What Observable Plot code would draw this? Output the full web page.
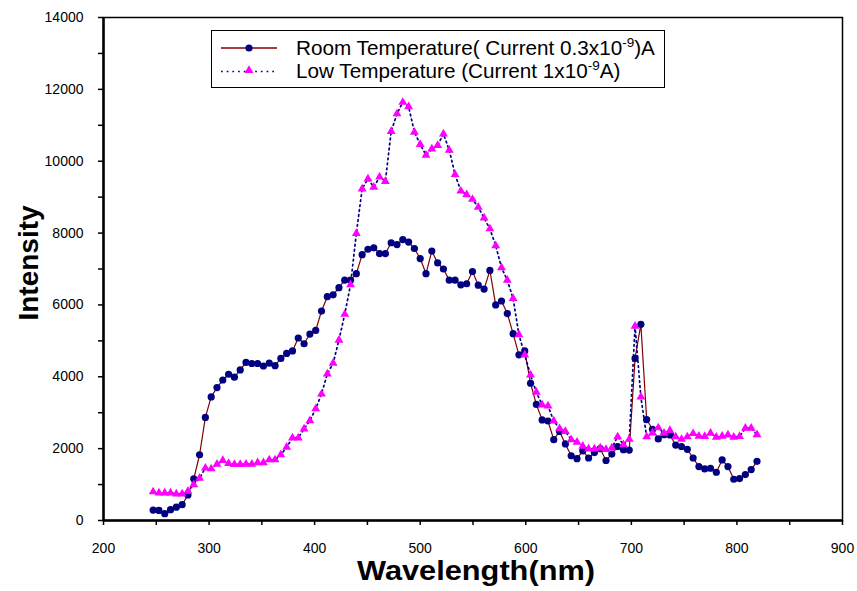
<!DOCTYPE html>
<html><head><meta charset="utf-8">
<script src="https://cdn.jsdelivr.net/npm/d3@7"></script>
<script src="https://cdn.jsdelivr.net/npm/@observablehq/plot@0.6"></script>
<style>body{margin:0;background:#fff;} #chart{width:857px;height:591px;} svg{display:block;}</style>
</head><body><div id="chart"></div>
<script>
const wavelength = [247,252.5,258,263.5,269,274.5,280,285.5,291,296.5,302,307.5,313,318.5,324,329.5,335,340.5,346,351.5,357,362.5,368,373.5,379,384.5,390,395.5,401,406.5,412,417.5,423,428.5,434,439.5,445,450.5,456,461.5,467,472.5,478,483.5,489,494.5,500,505.5,511,516.5,522,527.5,533,538.5,544,549.5,555,560.5,566,571.5,577,582.5,588,593.5,599,604.5,610,615.5,621,626.5,632,637.5,643,648.5,654,659.5,665,670.5,676,681.5,687,692.5,698,703.5,709,714.5,720,725.5,731,736.5,742,747.5,753,758.5,764,769.5,775,780.5,786,791.5,797,802.5,808,813.5,819];
const roomTemp = [290,280,190,300,370,440,710,1160,1830,2870,3440,3700,3910,4070,3990,4190,4400,4370,4370,4300,4380,4310,4510,4650,4720,5080,4920,5190,5290,5830,6230,6280,6480,6690,6690,6870,7400,7550,7590,7430,7430,7730,7680,7820,7750,7570,7290,6870,7500,7170,7000,6690,6690,6560,6590,6930,6550,6440,6960,6000,6110,5760,5200,4610,4720,3820,3230,2800,2770,2250,2480,2130,1800,1720,1940,1740,1890,2000,1670,1850,2060,1970,1960,4510,5460,2810,2540,2270,2390,2380,2100,2060,1980,1740,1500,1435,1454,1343,1685,1500,1148,1167,1278,1417,1648];
const lowTemp = [800,770,770,770,740,740,815,1000,1180,1460,1440,1570,1670,1590,1560,1560,1570,1570,1610,1610,1690,1690,1830,2040,2300,2300,2550,2780,3110,3520,4080,4380,5020,5740,6560,7990,9230,9510,9280,9560,9440,10830,11320,11640,11520,10810,10470,10170,10340,10440,10760,10310,9630,9170,9070,8940,8720,8420,8120,7650,7040,6690,6180,5170,4610,4050,3570,3220,3190,2770,2560,2480,2250,2180,2070,1990,1990,2020,1980,2020,2330,2110,2260,5410,3440,2330,2440,2580,2430,2510,2330,2260,2330,2420,2350,2340,2430,2320,2350,2380,2320,2340,2570,2570,2390];
const xTicks = [200,250,300,350,400,450,500,550,600,650,700,750,800,850,900];
const yTicks = [0,1000,2000,3000,4000,5000,6000,7000,8000,9000,10000,11000,12000,13000,14000];
const seriesNames = ["Room Temperature( Current 0.3x10", "Low Temperature (Current 1x10"];

const room = wavelength.map((w, i) => ({w, v: roomTemp[i]}));
const low = wavelength.map((w, i) => ({w, v: lowTemp[i]}));

const font = "'Liberation Sans', Arial, sans-serif";
const svg = Plot.plot({
  width: 857, height: 591,
  marginLeft: 103, marginRight: 15, marginTop: 17, marginBottom: 71,
  style: {fontFamily: font, fontSize: "14px", color: "#000", background: "#fff"},
  x: {domain: [200, 900]},
  y: {domain: [0, 14000]},
  marks: [
    Plot.frame({stroke: "#000", strokeWidth: 1.5}),
    Plot.axisX({ticks: xTicks, tickSize: 5, tickPadding: 18, strokeWidth: 1.5, tickFormat: d => d % 100 === 0 ? String(d) : "", label: null}),
    Plot.axisY({ticks: yTicks, tickSize: 5, tickPadding: 15, strokeWidth: 1.5, tickFormat: d => d % 2000 === 0 ? String(d) : "", label: null}),
    Plot.ruleX([200], {stroke: "#000", strokeWidth: 2.5}),
    Plot.ruleY([0], {stroke: "#000", strokeWidth: 2.5}),
    Plot.line(room, {x: "w", y: "v", stroke: "#800000", strokeWidth: 1.2}),
    Plot.dot(room, {x: "w", y: "v", r: 3.6, fill: "#000080", stroke: "none"}),
    Plot.line(low, {x: "w", y: "v", stroke: "#000080", strokeWidth: 1.7, strokeDasharray: "1.7,3.3"}),
    Plot.dot(low, {x: "w", y: "v", symbol: "triangle", r: 3.3, fill: "#ff00ff", stroke: "none"})
  ]
});
document.getElementById("chart").appendChild(svg);

const s = d3.select(svg);
// axis titles
s.append("text").attr("x", 476).attr("y", 580).attr("text-anchor", "middle")
  .attr("font-family", font).attr("font-weight", "bold").attr("font-size", 28).attr("fill", "#000")
  .attr("textLength", 238).attr("lengthAdjust", "spacingAndGlyphs")
  .text("Wavelength(nm)");
s.append("text").attr("transform", "translate(38,263) rotate(-90)").attr("text-anchor", "middle")
  .attr("font-family", font).attr("font-weight", "bold").attr("font-size", 28).attr("fill", "#000")
  .text("Intensity");

// legend
const lg = s.append("g").attr("font-family", font).attr("fill", "#000").attr("text-anchor", "start");
lg.append("rect").attr("x", 211.5).attr("y", 30.5).attr("width", 453).attr("height", 57)
  .attr("fill", "#fff").attr("stroke", "#000").attr("stroke-width", 1);
lg.append("line").attr("x1", 221).attr("x2", 277).attr("y1", 48).attr("y2", 48)
  .attr("stroke", "#800000").attr("stroke-width", 1.5);
lg.append("circle").attr("cx", 249).attr("cy", 48).attr("r", 3.6).attr("fill", "#000080");
const t1 = lg.append("text").attr("x", 296).attr("y", 54.5).attr("font-size", 20.7).attr("text-anchor", "start");
t1.append("tspan").text(seriesNames[0]);
t1.append("tspan").attr("dy", -8).attr("font-size", 13.5).text("-9");
t1.append("tspan").attr("dy", 8).text(")A");
lg.append("line").attr("x1", 221).attr("x2", 277).attr("y1", 71.5).attr("y2", 71.5)
  .attr("stroke", "#000080").attr("stroke-width", 1.7).attr("stroke-dasharray", "1.7,4");
lg.append("path").attr("transform", "translate(249,70.5)")
  .attr("d", d3.symbol(d3.symbolTriangle, Math.PI * 3.3 * 3.3)()).attr("fill", "#ff00ff");
const t2 = lg.append("text").attr("x", 296).attr("y", 78).attr("font-size", 20.7).attr("text-anchor", "start");
t2.append("tspan").text(seriesNames[1]);
t2.append("tspan").attr("dy", -8).attr("font-size", 13.5).text("-9");
t2.append("tspan").attr("dy", 8).text("A)");
</script>
</body></html>
